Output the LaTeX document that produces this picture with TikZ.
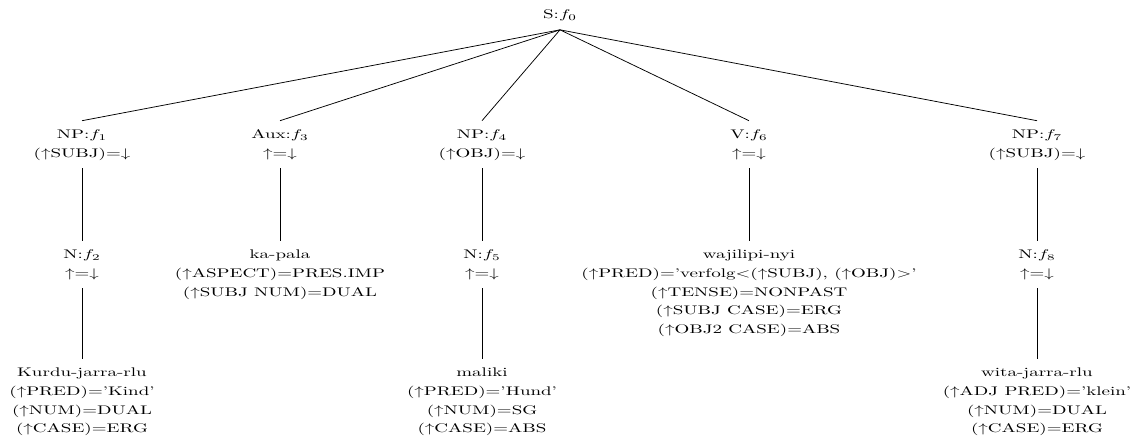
\documentclass[tikz,border=0pt]{standalone}
\usepackage{graphicx}
\renewcommand{\arraystretch}{1.2417}
\newcommand{\lab}[1]{\scalebox{1.52}[1]{\begin{tabular}[t]{@{}c@{}}#1\end{tabular}}}
\newcommand{\myup}{$\uparrow$}
\newcommand{\mydn}{$\downarrow$}
\begin{document}
\begin{tikzpicture}[x=0.8pt,y=-0.8pt,
  lbl/.style={anchor=base,inner sep=4pt},
  edge/.style={line width=0.6pt}]
\useasboundingbox (0,0) rectangle (1140,441);
% root
\node[lbl] (s) at (560,19) {\lab{S:$f_0$}};
% level 1
\node[lbl] (np1) at (82,139) {\lab{NP:$f_1$\\(\myup SUBJ)=\mydn}};
\node[lbl] (aux) at (280,139) {\lab{Aux:$f_3$\\\myup=\mydn}};
\node[lbl] (np4) at (482,139) {\lab{NP:$f_4$\\(\myup OBJ)=\mydn}};
\node[lbl] (v) at (749,139) {\lab{V:$f_6$\\\myup=\mydn}};
\node[lbl] (np7) at (1037,139) {\lab{NP:$f_7$\\(\myup SUBJ)=\mydn}};
% level 2
\node[lbl] (n2) at (82,259) {\lab{N:$f_2$\\\myup=\mydn}};
\node[lbl] (kapala) at (280,259) {\lab{ka-pala\\(\myup ASPECT)=PRES.IMP\\(\myup SUBJ NUM)=DUAL}};
\node[lbl] (n5) at (482,259) {\lab{N:$f_5$\\\myup=\mydn}};
\node[lbl] (waj) at (749,259) {\lab{wajilipi-nyi\\(\myup PRED)='verfolg$<$(\myup SUBJ), (\myup OBJ)$>$'\\(\myup TENSE)=NONPAST\\(\myup SUBJ CASE)=ERG\\(\myup OBJ2 CASE)=ABS}};
\node[lbl] (n8) at (1037,259) {\lab{N:$f_8$\\\myup=\mydn}};
% level 3
\node[lbl] (kurdu) at (82,377) {\lab{Kurdu-jarra-rlu\\(\myup PRED)='Kind'\\(\myup NUM)=DUAL\\(\myup CASE)=ERG}};
\node[lbl] (maliki) at (482,377) {\lab{maliki\\(\myup PRED)='Hund'\\(\myup NUM)=SG\\(\myup CASE)=ABS}};
\node[lbl] (wita) at (1037,377) {\lab{wita-jarra-rlu\\(\myup ADJ PRED)='klein'\\(\myup NUM)=DUAL\\(\myup CASE)=ERG}};
% edges
\draw[edge] (s.south) -- (np1.north);
\draw[edge] (s.south) -- (aux.north);
\draw[edge] (s.south) -- (np4.north);
\draw[edge] (s.south) -- (v.north);
\draw[edge] (s.south) -- (np7.north);
\draw[edge] (np1.south) -- (n2.north);
\draw[edge] (aux.south) -- (kapala.north);
\draw[edge] (np4.south) -- (n5.north);
\draw[edge] (v.south) -- (waj.north);
\draw[edge] (np7.south) -- (n8.north);
\draw[edge] (n2.south) -- (kurdu.north);
\draw[edge] (n5.south) -- (maliki.north);
\draw[edge] (n8.south) -- (wita.north);
\end{tikzpicture}
\end{document}
